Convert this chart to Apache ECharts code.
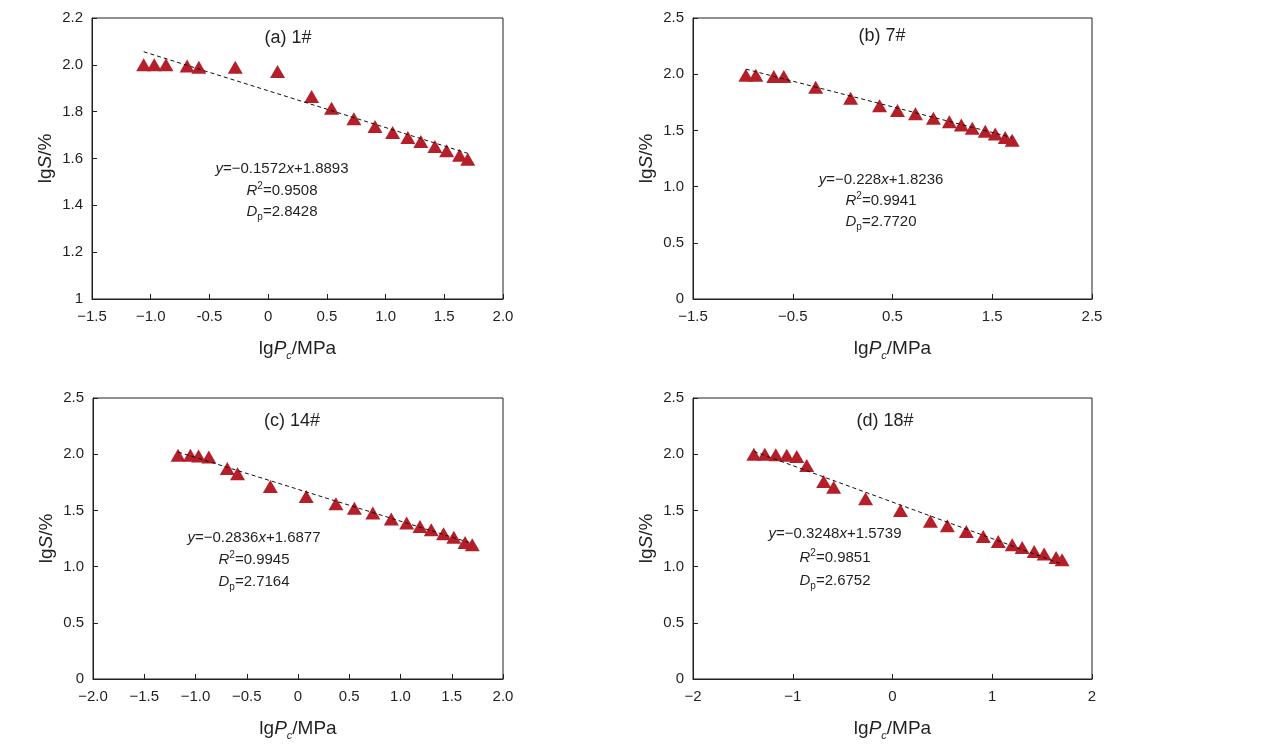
<!DOCTYPE html>
<html>
<head>
<meta charset="utf-8">
<script src="https://cdn.jsdelivr.net/npm/echarts@6/dist/echarts.min.js"></script>
<style>
  html, body { margin: 0; padding: 0; background: #fff; }
  #chart { width: 1268px; height: 753px; }
</style>
</head>
<body>
<div id="chart"></div>
<script>
// lgPc (x) and lgS (y) for each sample
const xA = [-1.06, -0.97, -0.87, -0.69, -0.59, -0.28, 0.08, 0.37, 0.54, 0.73, 0.91, 1.06, 1.19, 1.30, 1.42, 1.52, 1.63, 1.70];
const yA = [2.00, 2.00, 2.00, 1.995, 1.99, 1.99, 1.972, 1.865, 1.815, 1.77, 1.737, 1.711, 1.69, 1.673, 1.651, 1.633, 1.614, 1.597];

const xB = [-0.97, -0.87, -0.69, -0.59, -0.27, 0.08, 0.37, 0.55, 0.73, 0.91, 1.07, 1.19, 1.30, 1.43, 1.53, 1.63, 1.70];
const yB = [1.99, 1.99, 1.98, 1.98, 1.885, 1.785, 1.72, 1.678, 1.648, 1.609, 1.577, 1.547, 1.52, 1.493, 1.467, 1.437, 1.413];

const xC = [-1.17, -1.05, -0.97, -0.87, -0.69, -0.59, -0.27, 0.08, 0.37, 0.55, 0.73, 0.91, 1.06, 1.19, 1.30, 1.42, 1.52, 1.63, 1.70];
const yC = [1.99, 1.99, 1.985, 1.975, 1.873, 1.826, 1.713, 1.624, 1.559, 1.52, 1.476, 1.423, 1.387, 1.357, 1.327, 1.292, 1.262, 1.214, 1.194];

const xD = [-1.39, -1.28, -1.17, -1.06, -0.96, -0.86, -0.69, -0.59, -0.27, 0.08, 0.38, 0.55, 0.74, 0.91, 1.06, 1.20, 1.30, 1.42, 1.52, 1.64, 1.70];
const yD = [2.00, 2.00, 1.995, 1.99, 1.98, 1.90, 1.758, 1.707, 1.603, 1.499, 1.404, 1.363, 1.312, 1.268, 1.223, 1.194, 1.17, 1.134, 1.113, 1.081, 1.06];

// fitted line end points (from the printed equations)
const fitA = [[-1.06, 2.056], [1.70, 1.622]];
const fitB = [[-0.97, 2.045], [1.70, 1.436]];
const fitC = [[-1.17, 2.019], [1.70, 1.206]];
const fitD = [[-1.39, 2.025], [1.70, 1.022]];

// tick labels
const xTicksA = ['\u22121.5', '\u22121.0', '-0.5', '0', '0.5', '1.0', '1.5', '2.0'];
const yTicksA = ['1', '1.2', '1.4', '1.6', '1.8', '2.0', '2.2'];
const xTicksB = ['\u22121.5', '\u22120.5', '0.5', '1.5', '2.5'];
const xTicksC = ['\u22122.0', '\u22121.5', '\u22121.0', '\u22120.5', '0', '0.5', '1.0', '1.5', '2.0'];
const xTicksD = ['\u22122', '\u22121', '0', '1', '2'];
const yTicks = ['0', '0.5', '1.0', '1.5', '2.0', '2.5'];

// panel texts
const titles = ['(a) 1#', '(b) 7#', '(c) 14#', '(d) 18#'];
const eqs = [
  ['\u22120.1572', '+1.8893', '0.9508', '2.8428'],
  ['\u22120.228', '+1.8236', '0.9941', '2.7720'],
  ['\u22120.2836', '+1.6877', '0.9945', '2.7164'],
  ['\u22120.3248', '+1.5739', '0.9851', '2.6752']
];

const FONT = '"Liberation Sans", Arial, sans-serif';
const INK = '#231f20';
const RED = '#b51f29';

let chart = echarts.init(document.getElementById('chart'));

const grids = [
  { left: 92, top: 18, width: 411, height: 281 },
  { left: 693, top: 18, width: 399, height: 281 },
  { left: 93, top: 398, width: 410, height: 281 },
  { left: 693, top: 398, width: 399, height: 281 }
];

function fmt(labels, min, step) {
  return function (v) {
    let i = Math.round((v - min) / step);
    return labels[i] !== undefined ? labels[i] : '';
  };
}

function xAxis(idx, min, max, step, labels) {
  return {
    type: 'value', gridIndex: idx, min: min, max: max, interval: step,
    name: '{n|lg}{i|P}{s|c}{n|/MPa}',
    nameLocation: 'middle', nameGap: 38,
    nameTextStyle: {
      rich: {
        n: { fontSize: 19, fontFamily: FONT, color: INK },
        i: { fontSize: 19, fontFamily: FONT, color: INK, fontStyle: 'italic' },
        s: { fontSize: 11, fontFamily: FONT, color: INK, fontStyle: 'italic', verticalAlign: 'bottom', lineHeight: 24 }
      }
    },
    axisLine: { show: true, onZero: false, lineStyle: { color: INK, width: 1 } },
    axisTick: { show: true, inside: true, length: 5, lineStyle: { color: INK } },
    axisLabel: { formatter: fmt(labels, min, step), fontSize: 15, fontFamily: FONT, color: INK, margin: 10 },
    splitLine: { show: false }
  };
}

function yAxis(idx, min, max, step, labels) {
  return {
    type: 'value', gridIndex: idx, min: min, max: max, interval: step,
    name: '{n|lg}{i|S}{n|/%}',
    nameLocation: 'middle', nameGap: 37, nameRotate: 90,
    nameTextStyle: {
      rich: {
        n: { fontSize: 19, fontFamily: FONT, color: INK },
        i: { fontSize: 19, fontFamily: FONT, color: INK, fontStyle: 'italic' }
      }
    },
    axisLine: { show: true, onZero: false, lineStyle: { color: INK, width: 1 } },
    axisTick: { show: true, inside: true, length: 5, lineStyle: { color: INK } },
    axisLabel: { formatter: fmt(labels, min, step), fontSize: 15, fontFamily: FONT, color: INK, margin: 9 },
    splitLine: { show: false }
  };
}

function zip(xs, ys) {
  return xs.map((x, i) => [x, ys[i]]);
}

const pts = [zip(xA, yA), zip(xB, yB), zip(xC, yC), zip(xD, yD)];
const fits = [fitA, fitB, fitC, fitD];

let series = [];
pts.forEach((d, i) => {
  series.push({
    type: 'scatter', xAxisIndex: i, yAxisIndex: i, data: d,
    symbol: 'triangle', symbolSize: [15, 13],
    itemStyle: { color: RED, opacity: 1 }, z: 2
  });
  series.push({
    type: 'line', xAxisIndex: i, yAxisIndex: i, data: fits[i],
    showSymbol: false, symbol: 'none',
    lineStyle: { color: '#111', width: 1, type: [4, 3] }, z: 3
  });
});

// annotation positions (pixel)
const titlePos = [[288, 38], [882, 36], [292, 421], [885, 421]];
const eqPos = [[282, 169, 21.5], [881, 180, 21], [254, 538, 22], [835, 534, 23.5]];

const richText = {
  i: { fontSize: 15, fontFamily: FONT, fill: INK, fontStyle: 'italic' },
  sup: { fontSize: 10, fontFamily: FONT, fill: INK, verticalAlign: 'top', lineHeight: 19 },
  sub: { fontSize: 10, fontFamily: FONT, fill: INK, verticalAlign: 'bottom', lineHeight: 21 }
};

let graphics = [];
titles.forEach((t, i) => {
  graphics.push({
    type: 'text', x: titlePos[i][0], y: titlePos[i][1], silent: true,
    style: { text: t, fontSize: 18, fontFamily: FONT, fill: INK, textAlign: 'center', textVerticalAlign: 'middle' }
  });
});
eqs.forEach((e, i) => {
  const [cx, cy, gap] = eqPos[i];
  const lines = [
    '{i|y}=' + e[0] + '{i|x}' + e[1],
    '{i|R}{sup|2}=' + e[2],
    '{i|D}{sub|p}=' + e[3]
  ];
  lines.forEach((ln, k) => {
    graphics.push({
      type: 'text', x: cx, y: cy + k * gap, silent: true,
      style: {
        text: ln, rich: richText, fontSize: 15, fontFamily: FONT, fill: INK,
        textAlign: 'center', textVerticalAlign: 'middle'
      }
    });
  });
});

let option = {
  animation: false,
  backgroundColor: '#fff',
  grid: grids.map(g => Object.assign({ show: true, borderColor: INK, borderWidth: 1, backgroundColor: 'transparent' }, g)),
  xAxis: [
    xAxis(0, -1.5, 2.0, 0.5, xTicksA),
    xAxis(1, -1.5, 2.5, 1, xTicksB),
    xAxis(2, -2.0, 2.0, 0.5, xTicksC),
    xAxis(3, -2, 2, 1, xTicksD)
  ],
  yAxis: [
    yAxis(0, 1, 2.2, 0.2, yTicksA),
    yAxis(1, 0, 2.5, 0.5, yTicks),
    yAxis(2, 0, 2.5, 0.5, yTicks),
    yAxis(3, 0, 2.5, 0.5, yTicks)
  ],
  series: series,
  graphic: graphics
};

chart.setOption(option);
</script>
</body>
</html>
